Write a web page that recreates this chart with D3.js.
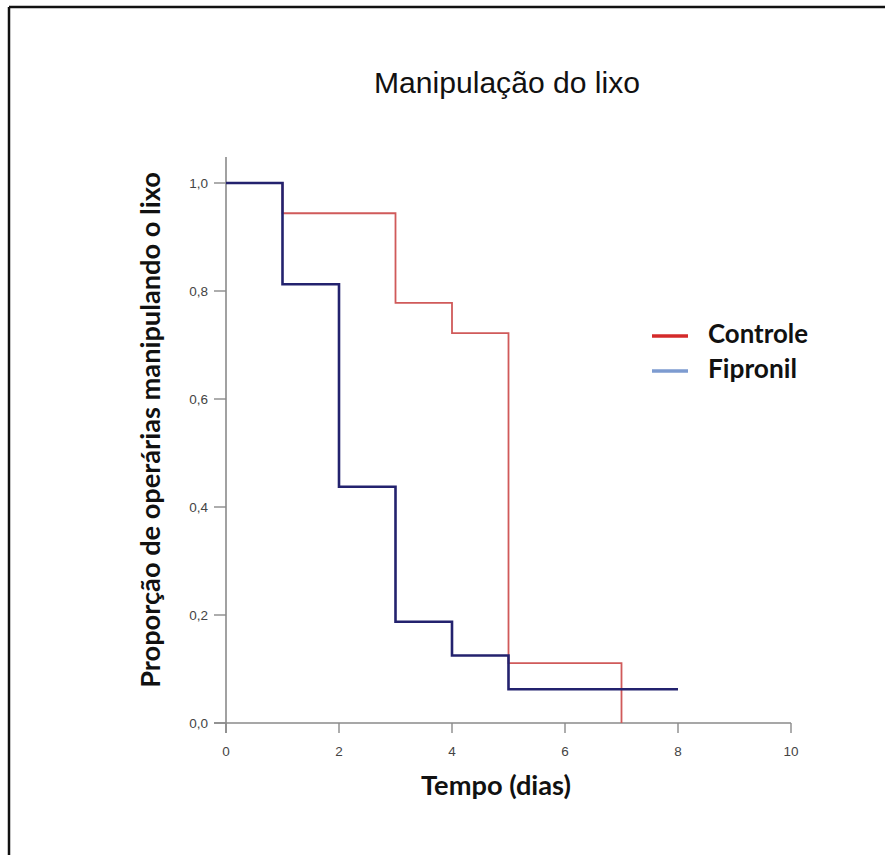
<!DOCTYPE html>
<html>
<head>
<meta charset="utf-8">
<script src="https://cdn.jsdelivr.net/npm/d3@7"></script>
<style>
  body { margin: 0; background: #fff; }
</style>
</head>
<body>
<script>
// survival data (Kaplan-Meier steps)
var controleTimes = [0, 1, 3, 4, 5, 7];
var controleValues = [1.0, 0.944, 0.778, 0.722, 0.111, 0.0];
var fipronilTimes = [0, 1, 2, 3, 4, 5, 8];
var fipronilValues = [1.0, 0.8125, 0.4375, 0.1875, 0.125, 0.0625, 0.0625];

var xTicks = [0, 2, 4, 6, 8, 10];
var yTicks = [0, 0.2, 0.4, 0.6, 0.8, 1.0];
var seriesNames = ["Controle", "Fipronil"];
var legendColors = ["#d42a2a", "#7d9bd0"];
var legendWidths = [100, 89];

var width = 885, height = 855;

var svg = d3.select("body").append("svg")
    .attr("width", width)
    .attr("height", height);

// frame (top and left edges visible)
svg.append("line").attr("x1", 9).attr("y1", 7).attr("x2", 885).attr("y2", 7)
    .attr("stroke", "#111").attr("stroke-width", 2.5);
svg.append("line").attr("x1", 9).attr("y1", 7).attr("x2", 9).attr("y2", 855)
    .attr("stroke", "#111").attr("stroke-width", 2.5);

// scales
var xScale = d3.scaleLinear().domain([0, 10]).range([226, 791]);
var yScale = d3.scaleLinear().domain([0, 1]).range([723, 183]);

var axisColor = "#8a8a8a";

// y axis
var yAxis = svg.append("g");
yAxis.append("line")
    .attr("x1", xScale(0)).attr("x2", xScale(0))
    .attr("y1", yScale(1.048)).attr("y2", yScale(0) + 10)
    .attr("stroke", axisColor).attr("stroke-width", 1.6);
yAxis.selectAll(".ytick").data(yTicks).enter().append("line")
    .attr("x1", xScale(0) - 12).attr("x2", xScale(0))
    .attr("y1", function (d) { return yScale(d) })
    .attr("y2", function (d) { return yScale(d) })
    .attr("stroke", axisColor).attr("stroke-width", 1.4);
yAxis.selectAll(".ylab").data(yTicks).enter().append("text")
    .attr("x", xScale(0) - 18)
    .attr("y", function (d) { return yScale(d) + 5 })
    .attr("text-anchor", "end")
    .attr("font-family", "Liberation Sans, Arial, sans-serif")
    .attr("font-size", 13.5)
    .attr("fill", "#444")
    .text(function (d) { return d.toFixed(1).replace(".", ",") });

// x axis
var xAxis = svg.append("g");
xAxis.append("line")
    .attr("x1", xScale(0) - 12).attr("x2", xScale(10))
    .attr("y1", yScale(0)).attr("y2", yScale(0))
    .attr("stroke", axisColor).attr("stroke-width", 1.6);
xAxis.selectAll(".xtick").data(xTicks).enter().append("line")
    .attr("x1", function (d) { return xScale(d) })
    .attr("x2", function (d) { return xScale(d) })
    .attr("y1", yScale(0)).attr("y2", yScale(0) + 10)
    .attr("stroke", axisColor).attr("stroke-width", 1.4);
xAxis.selectAll(".xlab").data(xTicks).enter().append("text")
    .attr("x", function (d) { return xScale(d) })
    .attr("y", 756)
    .attr("text-anchor", "middle")
    .attr("font-family", "Liberation Sans, Arial, sans-serif")
    .attr("font-size", 13.5)
    .attr("fill", "#444")
    .text(function (d) { return d });

// step lines
var stepLine = d3.line()
    .x(function (d) { return xScale(d[0]) })
    .y(function (d) { return yScale(d[1]) })
    .curve(d3.curveStepAfter);

svg.append("path")
    .datum(d3.zip(controleTimes, controleValues))
    .attr("fill", "none")
    .attr("stroke", "#d05a5a")
    .attr("stroke-width", 1.8)
    .attr("d", stepLine);

svg.append("path")
    .datum(d3.zip(fipronilTimes, fipronilValues))
    .attr("fill", "none")
    .attr("stroke", "#23226e")
    .attr("stroke-width", 2.6)
    .attr("d", stepLine);

// fit a text element to a target width by adjusting font size
function fit(sel, target) {
    var fs = +sel.attr("font-size");
    var w = sel.node().getComputedTextLength();
    sel.attr("font-size", fs * target / w);
}

// title
var title = svg.append("text")
    .attr("x", 507).attr("y", 93)
    .attr("text-anchor", "middle")
    .attr("font-family", "Liberation Sans, Arial, sans-serif")
    .attr("font-size", 24)
    .attr("fill", "#111")
    .text("Manipulação do lixo");
fit(title, 266);

// axis titles
var xTitle = svg.append("text")
    .attr("x", 496).attr("y", 795)
    .attr("text-anchor", "middle")
    .attr("font-family", "Lato, sans-serif")
    .attr("font-weight", "bold")
    .attr("font-size", 19)
    .attr("fill", "#111")
    .text("Tempo (dias)");
fit(xTitle, 150);

var yTitle = svg.append("text")
    .attr("transform", "translate(160,430) rotate(-90)")
    .attr("text-anchor", "middle")
    .attr("font-family", "Lato, sans-serif")
    .attr("font-weight", "bold")
    .attr("font-size", 22)
    .attr("fill", "#111")
    .text("Proporção de operárias manipulando o lixo");
fit(yTitle, 516);

// legend
var legend = svg.append("g");
seriesNames.forEach(function (name, i) {
    var cy = 336 + i * 35;
    legend.append("line")
        .attr("x1", 652).attr("x2", 688)
        .attr("y1", cy).attr("y2", cy)
        .attr("stroke", legendColors[i])
        .attr("stroke-width", 3.5);
    var t = legend.append("text")
        .attr("x", 708).attr("y", cy + 7)
        .attr("font-family", "Lato, sans-serif")
        .attr("font-weight", "bold")
        .attr("font-size", 20)
        .attr("fill", "#111")
        .text(name);
    fit(t, legendWidths[i]);
});
</script>
</body>
</html>
